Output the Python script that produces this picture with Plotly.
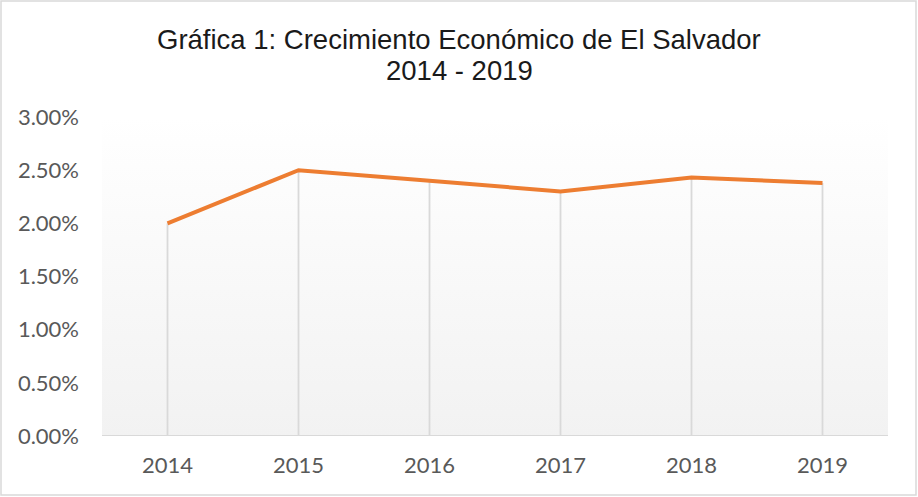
import plotly.graph_objects as go

years = ["2014", "2015", "2016", "2017", "2018", "2019"]
growth = [0.0200, 0.0250, 0.0240, 0.0230, 0.0243, 0.0238]
y_ticks = [0.0, 0.005, 0.01, 0.015, 0.02, 0.025, 0.03]
y_tick_labels = ["0.00%", "0.50%", "1.00%", "1.50%", "2.00%", "2.50%", "3.00%"]
title_line1 = "Gráfica 1: Crecimiento Económico de El Salvador"
title_line2 = "2014 - 2019"

W, H = 918, 497
L, R, T, B = 102, 30, 117, 61
pw, ph = W - L - R, H - T - B

def py2paper(py):
    return (T + ph - py) / ph

xs = list(range(len(years)))
xr = [-0.5, len(years) - 0.5]
yr = [0, 0.03]

fig = go.Figure()

# gradient plot-area background
fig.add_trace(go.Scatter(
    x=[xr[0], xr[1], xr[1], xr[0], xr[0]],
    y=[yr[0], yr[0], yr[1], yr[1], yr[0]],
    mode="lines", line=dict(width=0), fill="toself",
    fillgradient=dict(type="vertical", colorscale=[[0, "#f2f2f2"], [1, "#ffffff"]]),
    hoverinfo="skip", showlegend=False,
))

# drop lines
dx, dy = [], []
for x, v in zip(xs, growth):
    dx += [x, x, None]
    dy += [0, v, None]
fig.add_trace(go.Scatter(x=dx, y=dy, mode="lines",
                         line=dict(color="#d9d9d9", width=1.8),
                         hoverinfo="skip", showlegend=False))

fig.add_trace(go.Scatter(x=xs, y=growth, mode="lines",
                         line=dict(color="#ED7D31", width=4),
                         showlegend=False))

title_font = dict(family="Liberation Sans, Arial", size=27.5, color="#1a1a1a")
tick_font = dict(family="Lato, Open Sans", size=22, color="#595959")

fig.update_layout(
    width=W, height=H,
    margin=dict(l=L, r=R, t=T, b=B),
    paper_bgcolor="white", plot_bgcolor="rgba(0,0,0,0)",
    xaxis=dict(range=xr, tickmode="array", tickvals=xs, ticktext=years,
               showgrid=False, zeroline=False, showline=False, ticks="",
               ticklabelstandoff=14, tickfont=tick_font),
    yaxis=dict(range=yr, tickmode="array", tickvals=y_ticks, ticktext=y_tick_labels,
               showgrid=False, zeroline=False, showline=False, ticks="",
               ticklabelstandoff=22, tickfont=tick_font),
    annotations=[
        dict(text=title_line1, xref="paper", yref="paper", x=(459 - L) / pw,
             y=py2paper(39), xanchor="center", yanchor="middle",
             showarrow=False, font=title_font),
        dict(text=title_line2, xref="paper", yref="paper", x=(459 - L) / pw,
             y=py2paper(70), xanchor="center", yanchor="middle",
             showarrow=False, font=title_font),
    ],
    shapes=[
        dict(type="line", xref="paper", yref="y", x0=0, x1=1, y0=0, y1=0,
             line=dict(color="#d9d9d9", width=2)),
        dict(type="rect", xref="paper", yref="paper",
             x0=(1 - L) / pw, x1=(W - 2 - L) / pw,
             y0=py2paper(H - 2), y1=py2paper(1),
             line=dict(color="#d9d9d9", width=1.5), fillcolor="rgba(0,0,0,0)"),
    ],
)

fig.write_html("out.html", config={"displayModeBar": False},
               post_script="document.body.style.margin='0';")
